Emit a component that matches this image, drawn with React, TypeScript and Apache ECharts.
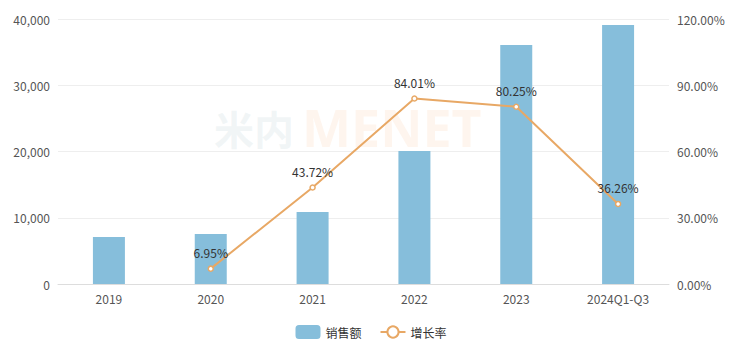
import React, { useEffect, useRef } from "react";
import * as echarts from "echarts";

const categories = ["2019", "2020", "2021", "2022", "2023", "2024Q1-Q3"];
const salesValues = [7100, 7550, 10870, 20080, 36080, 39100];
const growthRates: (number | null)[] = [null, 6.95, 43.72, 84.01, 80.25, 36.26];
const leftTicks = { min: 0, max: 40000, interval: 10000 };
const rightTicks = { min: 0, max: 120, interval: 30 };

export default function App() {
  const ref = useRef<HTMLDivElement>(null);
  useEffect(() => {
    const chart = echarts.init(ref.current!, undefined, { renderer: "svg" });
    chart.setOption({
      animation: false,
      textStyle: { fontFamily: "Noto Sans CJK SC, Noto Sans, sans-serif" },
      graphic: [
        {
          type: "text",
          left: 206,
          top: 100,
          silent: true,
          z: 0,
          style: { text: "米内", fontSize: 40, fontWeight: "bold", fill: "rgba(200,215,220,0.25)", fontFamily: "Noto Sans CJK SC", lineHeight: 40 },
        },
        {
          type: "text",
          left: 294,
          top: 92,
          silent: true,
          z: 0,
          style: { text: "MENET", fontSize: 52, fontWeight: "bold", fill: "rgba(250,200,160,0.18)", fontFamily: "Noto Sans", lineHeight: 52 },
        },
      ],
      legend: {
        bottom: 5,
        left: "center",
        itemWidth: 25,
        itemHeight: 14,
        itemGap: 18,
        textStyle: { color: "#333", fontSize: 12 },
        data: ["销售额", "增长率"],
      },
      grid: { left: 50, right: 65, top: 11, bottom: 65 },
      xAxis: {
        type: "category",
        data: categories,
        axisTick: { show: false },
        axisLine: { lineStyle: { color: "#ddd" } },
        axisLabel: { color: "#555", fontSize: 12, margin: 8 },
      },
      yAxis: [
        {
          type: "value",
          ...leftTicks,
          axisLabel: { color: "#555", fontSize: 12, formatter: (v: number) => v.toLocaleString("en-US") },
          splitLine: { lineStyle: { color: "#eee" } },
          axisLine: { show: false },
          axisTick: { show: false },
        },
        {
          type: "value",
          ...rightTicks,
          axisLabel: { color: "#555", fontSize: 12, formatter: (v: number) => v.toFixed(2) + "%" },
          splitLine: { show: false },
          axisLine: { show: false },
          axisTick: { show: false },
        },
      ],
      series: [
        {
          name: "销售额",
          type: "bar",
          data: salesValues,
          barWidth: 32,
          itemStyle: { color: "#86bedb" },
        },
        {
          name: "增长率",
          type: "line",
          yAxisIndex: 1,
          data: growthRates,
          symbol: "circle",
          symbolSize: 5,
          lineStyle: { color: "#e8a865", width: 2 },
          itemStyle: { color: "#fff", borderColor: "#e8a865", borderWidth: 1.5 },
          label: {
            show: true,
            position: "top",
            distance: 7,
            color: "#333",
            fontSize: 12,
            formatter: (p: any) => p.value.toFixed(2) + "%",
          },
        },
      ],
    });
    return () => chart.dispose();
  }, []);
  return <div ref={ref} style={{ width: 726, height: 341 }} />;
}
